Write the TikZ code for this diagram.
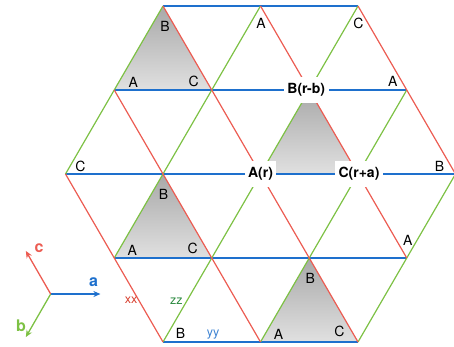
\documentclass[tikz,border=0pt]{standalone}
\usepackage{fontspec}
\setmainfont{TeX Gyre Heros}
\usetikzlibrary{arrows.meta,calc}
\definecolor{lred}{RGB}{236,92,82}
\definecolor{lgreen}{RGB}{125,193,68}
\definecolor{lblue}{RGB}{30,112,205}
\definecolor{tred}{RGB}{215,62,45}
\definecolor{tgreen}{RGB}{40,135,60}
\definecolor{tblue}{RGB}{60,130,210}

\begin{document}
\begin{tikzpicture}[x=97.5pt, y=97.5pt, >={Stealth[length=7pt,width=6pt]},
  hline/.style={draw=lblue, line width=1.5pt},
  gline/.style={draw=lgreen, line width=1.2pt},
  rline/.style={draw=lred, line width=1.2pt},
  tri/.style={top color=black!34, bottom color=black!12},
  lbl/.style={font=\fontsize{14}{16}\selectfont, inner sep=0pt},
  site/.style={font=\fontsize{14}{16}\selectfont\bfseries, fill=white, inner xsep=3.5pt, inner ysep=6.5pt},
  tag/.style={font=\fontsize{12.5}{14}\selectfont, inner sep=0pt},
  axl/.style={font=\fontsize{16}{18}\selectfont\bfseries, inner sep=0pt}]
  \useasboundingbox (-260.5pt,-173pt) rectangle (193.5pt,174pt);
  % lattice points p<i>_<j>
  \foreach \i in {-2,...,2}
    \foreach \j in {-2,...,2}
      \coordinate (p\i_\j) at ({\i+\j/2},{\j*0.8615});
  % shaded triangles
  \shade[tri] (p-2_2) -- (p-2_1) -- (p-1_1) -- cycle;
  \shade[tri] (p0_1) -- (p0_0) -- (p1_0) -- cycle;
  \shade[tri] (p-1_0) -- (p-1_-1) -- (p0_-1) -- cycle;
  \shade[tri] (p1_-1) -- (p1_-2) -- (p2_-2) -- cycle;
  % rows and the two slants
  \foreach \s/\e in {-2_2/0_2, -2_1/1_1, -2_0/2_0, -1_-1/2_-1, 0_-2/2_-2}
    \draw[hline] (p\s) -- (p\e);
  \foreach \s/\e in {-2_0/-2_2, -1_-1/-1_2, 0_-2/0_2, 1_-2/1_1, 2_-2/2_0}
    \draw[gline] (p\s) -- (p\e);
  \foreach \s/\e in {-2_0/0_-2, -2_1/1_-2, -2_2/2_-2, -1_2/2_-1, 0_2/2_0}
    \draw[rline] (p\s) -- (p\e);
  % corner letters
  \node[lbl] (t1B) at ($(p-2_2)+(2pt,-20pt)$) {B};
  \node[lbl] (t1A) at ($(p-2_1)+(19pt,7.5pt)$) {A};
  \node[lbl] (t1C) at ($(p-1_1)+(-18pt,9pt)$) {C};
  \node[lbl] (topA) at ($(p-1_2)+(0.5pt,-17pt)$) {A};
  \node[lbl] (topC) at ($(p0_2)+(0.5pt,-17pt)$) {C};
  \node[lbl] (rA1) at ($(p1_1)+(-14pt,9pt)$) {A};
  \node[lbl] (lC) at ($(p-2_0)+(15pt,8pt)$) {C};
  \node[lbl] (rB) at ($(p2_0)+(-16pt,8pt)$) {B};
  \node[lbl] (t3B) at ($(p-1_0)+(0.5pt,-20pt)$) {B};
  \node[lbl] (t3A) at ($(p-1_-1)+(18pt,7.5pt)$) {A};
  \node[lbl] (t3C) at ($(p0_-1)+(-19pt,10pt)$) {C};
  \node[lbl] (rA2) at ($(p2_-1)+(1pt,18pt)$) {A};
  \node[lbl] (t4B) at ($(p1_-1)+(1pt,-20pt)$) {B};
  \node[lbl] (t4A) at ($(p1_-2)+(18pt,8pt)$) {A};
  \node[lbl] (t4C) at ($(p2_-2)+(-18.5pt,11pt)$) {C};
  \node[lbl] (botB) at ($(p0_-2)+(17.5pt,9pt)$) {B};
  % sites
  \node[site] (sB) at ($(p0_1)+(-3pt,0)$) {B(r-b)};
  \node[site] (sA) at (p0_0) {A(r)};
  \node[site] (sC) at ($(p1_0)+(1pt,0)$) {C(r+a)};
  % line tags
  \node[tag, text=tred] (xx) at ($(p0_-2)+(-31.8pt,41.8pt)$) {xx};
  \node[tag, text=tgreen] (zz) at ($(p0_-2)+(13.3pt,41pt)$) {zz};
  \node[tag, text=tblue] (yy) at ($(p0_-2)+(50pt,7.7pt)$) {yy};
  % axes
  \coordinate (o) at (-2.152,-1.231);
  \coordinate (ta) at ($(o)+(0.51,0)$);
  \coordinate (tb) at ($(o)+(-0.255,-0.442)$);
  \coordinate (tc) at ($(o)+(-0.255,0.442)$);
  \draw[->, lblue, line width=1.3pt] (o) -- (ta);
  \draw[->, lgreen, line width=1.3pt] (o) -- (tb);
  \draw[->, lred, line width=1.3pt] (o) -- (tc);
  \node[axl, text=lblue] (la) at ($(o)+(43pt,11.5pt)$) {a};
  \node[axl, text=lgreen] (lb) at ($(o)+(-29.7pt,-31.8pt)$) {b};
  \node[axl, text=lred] (lc) at ($(o)+(-11.5pt,45.7pt)$) {c};
\end{tikzpicture}
\end{document}
